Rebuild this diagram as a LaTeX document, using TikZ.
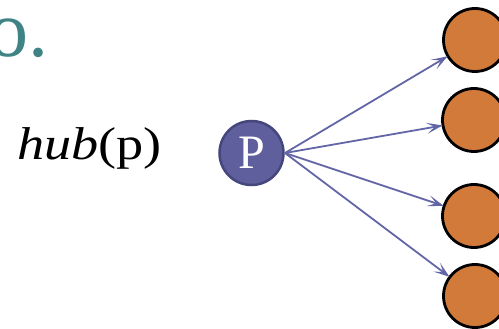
\documentclass[tikz,border=0pt]{standalone}
\usepackage{fontspec}
\setmainfont{Liberation Serif}
\usetikzlibrary{arrows.meta}
\definecolor{teal1}{HTML}{3F8385}
\definecolor{pfill}{HTML}{5E5F9C}
\definecolor{pdraw}{HTML}{45477C}
\definecolor{orng}{HTML}{D27A3A}
\definecolor{arr}{HTML}{6366A6}
\begin{document}
\begin{tikzpicture}[x=1pt,y=-1pt,
  leaf/.style={circle,draw=black,line width=2.8pt,fill=orng,minimum size=63pt,inner sep=0pt},
  hubnode/.style={circle,draw=pdraw,line width=2.5pt,fill=pfill,minimum size=64pt,inner sep=0pt,text=white,font=\fontsize{48}{48}\selectfont},
  link/.style={draw=arr,line width=1.8pt,-{Stealth[length=16pt,width=11pt,inset=8pt]},shorten >=-1pt}]
\useasboundingbox (0,0) rectangle (499,329);
\clip (0,0) rectangle (499,329);
\node[anchor=base west,text=teal1,inner sep=0pt,font=\fontsize{80}{80}\selectfont] (title) at (-12,57) {o.};
\node[anchor=base west,inner sep=0pt,font=\fontsize{46}{46}\selectfont] (lbl) at (17,160) {\scalebox{1.18}[1]{\textit{hub}(p)}};
\node[hubnode] (p) at (251.5,153) {\raisebox{-2pt}{P}};
\node[leaf] (a) at (475,40) {};
\node[leaf] (b) at (474,120) {};
\node[leaf] (c) at (474,216) {};
\node[leaf] (d) at (475,296) {};
\coordinate (s) at (285,153);
\foreach \t in {a,b,c,d}{\draw[link] (s) -- (\t);}
\end{tikzpicture}
\end{document}
